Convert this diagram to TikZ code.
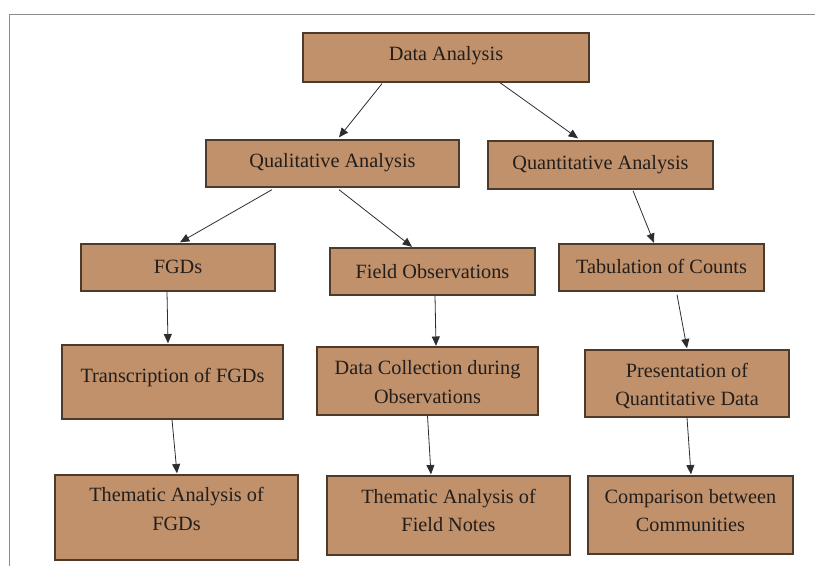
\documentclass[tikz,border=0pt]{standalone}
\usepackage{fontspec}
\setmainfont{Liberation Serif}
\usetikzlibrary{arrows.meta,calc,fit}
\definecolor{boxfill}{RGB}{192,145,106}
\definecolor{boxline}{RGB}{78,58,40}
\definecolor{arrowc}{RGB}{45,45,45}
\definecolor{framec}{RGB}{140,140,140}
\definecolor{txtc}{RGB}{35,30,28}
\begin{document}
\begin{tikzpicture}[x=0.75pt,y=-0.75pt,
  bx/.style={draw=boxline,fill=boxfill,line width=1pt,inner sep=0pt,rectangle},
  txt/.style={align=center,text=txtc,font=\fontsize{15.2}{21.2}\selectfont,inner sep=0pt,anchor=center},
  arr/.style={draw=arrowc,line width=0.6pt,-{Triangle[length=7pt,width=6pt]}}]
\useasboundingbox (0,0) rectangle (815,566);
% frame
\draw[framec,line width=0.8pt] (9.5,566) -- (9.5,14.3) -- (815,14.3);
% boxes
\node[bx,fit={(303,33) (589,82)},label={[txt,yshift=1.1pt]center:Data Analysis}] (da) {};
\node[bx,fit={(206,140) (459,187)},label={[txt,yshift=0.9pt]center:Qualitative Analysis}] (ql) {};
\node[bx,fit={(488,141) (713,189)},label={[txt,yshift=0.5pt]center:Quantitative Analysis}] (qn) {};
\node[bx,fit={(81,244) (275,291)},label={[txt,yshift=0.4pt]center:FGDs}] (fgd) {};
\node[bx,fit={(330,248) (535,295)},label={[txt,yshift=0pt]center:Field Observations}] (fo) {};
\node[bx,fit={(559,244) (764,291)},label={[txt,yshift=0.4pt]center:Tabulation of Counts}] (tab) {};
\node[bx,fit={(62,345) (283,419)},label={[txt,yshift=3.7pt]center:Transcription of FGDs}] (tr) {};
\node[bx,fit={(317,347) (538,415)},label={[txt,yshift=-0.9pt]center:Data Collection during\\Observations}] (dc) {};
\node[bx,fit={(585,350) (789,417)},label={[txt,yshift=-1.8pt]center:Presentation of\\Quantitative Data}] (pr) {};
\node[bx,fit={(55,475) (298,560)},label={[txt,yshift=6.4pt]center:Thematic Analysis of\\FGDs}] (tf) {};
\node[bx,fit={(327,476) (570,555)},label={[txt,yshift=3.7pt]center:Thematic Analysis of\\Field Notes}] (tn) {};
\node[bx,fit={(588,476) (793,554)},label={[txt,yshift=3.4pt]center:Comparison between\\Communities}] (cm) {};
% arrows
\draw[arr] ($(da.south)+(-64,1)$) -- ($(ql.north)+(6.5,-2)$);
\draw[arr] ($(da.south)+(54,0)$) -- ($(qn.north)+(-22.5,-2)$);
\draw[arr] ($(ql.south)+(-60.5,2)$) -- ($(fgd.north)+(2,-1)$);
\draw[arr] ($(ql.south)+(6.5,2)$) -- ($(fo.north)+(-20.5,-0.5)$);
\draw[arr] ($(qn.south)+(32.5,1)$) -- ($(tab.north)+(-7.5,-0.5)$);
\draw[arr] ($(fgd.south)+(-11,0)$) -- ($(tr.north)+(-4.5,-1)$);
\draw[arr] ($(fo.south)+(2.5,0)$) -- ($(dc.north)+(8.5,-0.5)$);
\draw[arr] ($(tab.south)+(15.5,3)$) -- ($(pr.north)+(0,-1)$);
\draw[arr] ($(tr.south)+(-0.5,0)$) -- ($(tf.north)+(0.5,-1)$);
\draw[arr] ($(dc.south)+(0,0)$) -- ($(tn.north)+(-17.5,-1)$);
\draw[arr] ($(pr.south)+(0,0)$) -- ($(cm.north)+(0.5,-1)$);
\end{tikzpicture}
\end{document}
